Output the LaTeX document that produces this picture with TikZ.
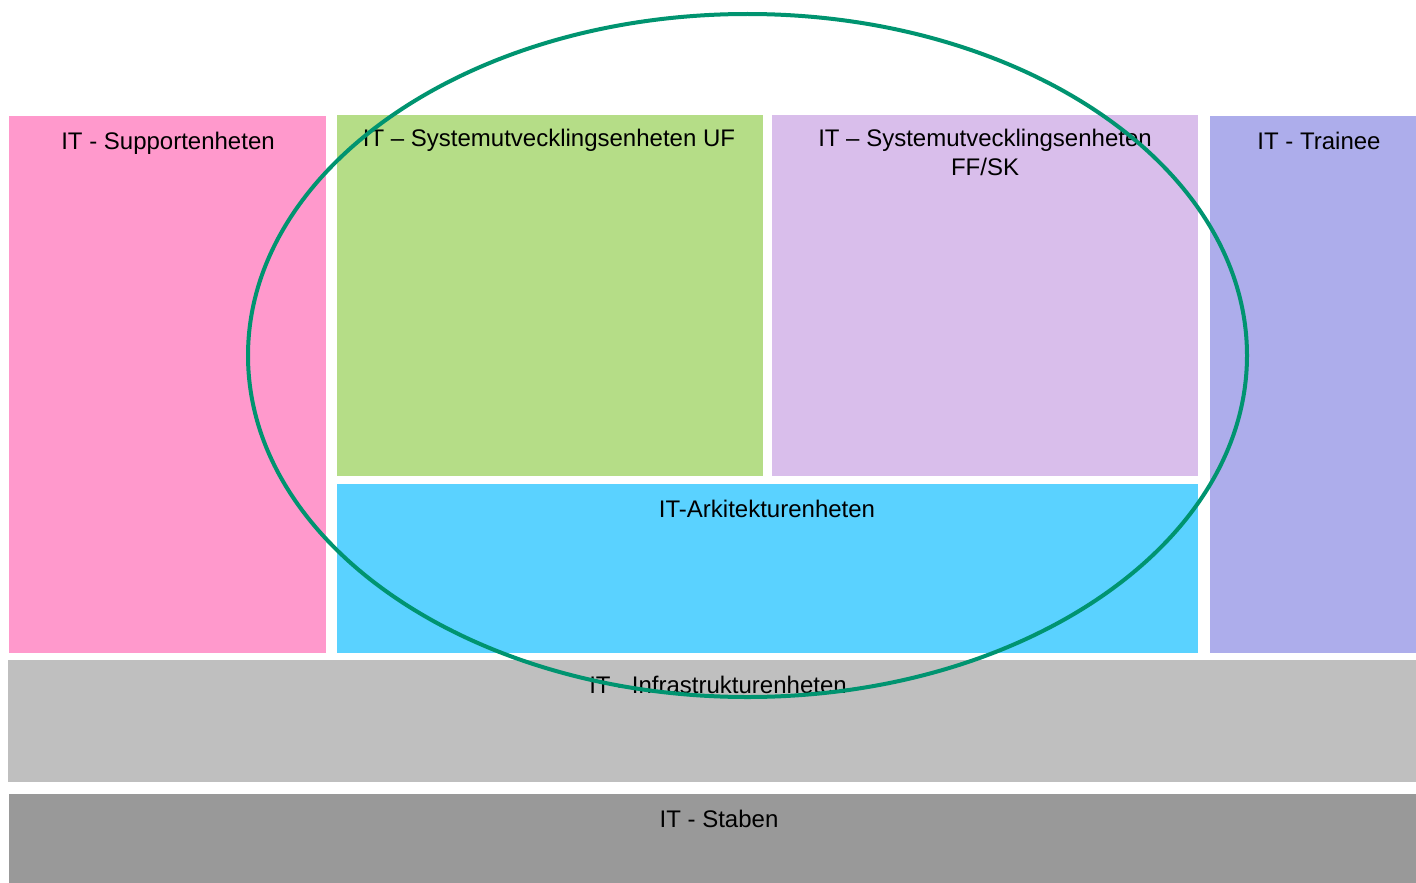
\documentclass[tikz,border=0pt]{standalone}
\usepackage{fontspec}
\setmainfont{Liberation Sans}
\definecolor{cpink}{HTML}{FF99CC}
\definecolor{cgreen}{HTML}{B5DD87}
\definecolor{clilac}{HTML}{D9BEEB}
\definecolor{ctrain}{HTML}{ADADEB}
\definecolor{cblue}{HTML}{5AD2FF}
\definecolor{clgray}{HTML}{BFBFBF}
\definecolor{cdgray}{HTML}{999999}
\definecolor{cring}{HTML}{009470}
\tikzset{
  unit/.style={draw=none, inner sep=0pt, outer sep=0pt},
  lbl/.style={font=\fontsize{24}{29}\selectfont, align=center, inner sep=0pt, text=black, anchor=base},
  ring/.style={draw=cring, line width=4pt, fill=none}
}
\begin{document}
\begin{tikzpicture}[x=1pt,y=-1pt]
\useasboundingbox (0,0) rectangle (1416,883);
\fill[white] (0,0) rectangle (1416,883);
% boxes
\node[unit, fill=cpink, minimum width=317pt, minimum height=537pt] (sup) at (167.5,384.5) {};
\node[unit, fill=cgreen, minimum width=426pt, minimum height=361pt] (suf) at (550,295.5) {};
\node[unit, fill=clilac, minimum width=426pt, minimum height=361pt] (sff) at (985,295.5) {};
\node[unit, fill=ctrain, minimum width=206pt, minimum height=537pt] (tr) at (1313,384.5) {};
\node[unit, fill=cblue, minimum width=861pt, minimum height=169pt] (ark) at (767.5,568.5) {};
\node[unit, fill=clgray, minimum width=1408pt, minimum height=122pt] (inf) at (712,721) {};
\node[unit, fill=cdgray, minimum width=1407pt, minimum height=89pt] (stab) at (712.5,838.5) {};
% labels
\node[lbl] (tsup) at (168,149.5) {IT - Supportenheten};
\node[lbl] (tsuf) at (549,146.5) {IT – Systemutvecklingsenheten UF};
\node[lbl] (tsff1) at (985,146.5) {IT – Systemutvecklingsenheten};
\node[lbl] (tsff2) at (985,175.5) {FF/SK};
\node[lbl] (ttr) at (1319,149.5) {IT - Trainee};
\node[lbl] (tark) at (767,517.5) {IT-Arkitekturenheten};
\node[lbl] (tinf) at (718,693.5) {IT - Infrastrukturenheten};
\node[lbl] (tstab) at (719,827.5) {IT - Staben};
% ellipse
\draw[ring] (747.5,355.5) ellipse [x radius=499.5, y radius=341.5];
\end{tikzpicture}
\end{document}
